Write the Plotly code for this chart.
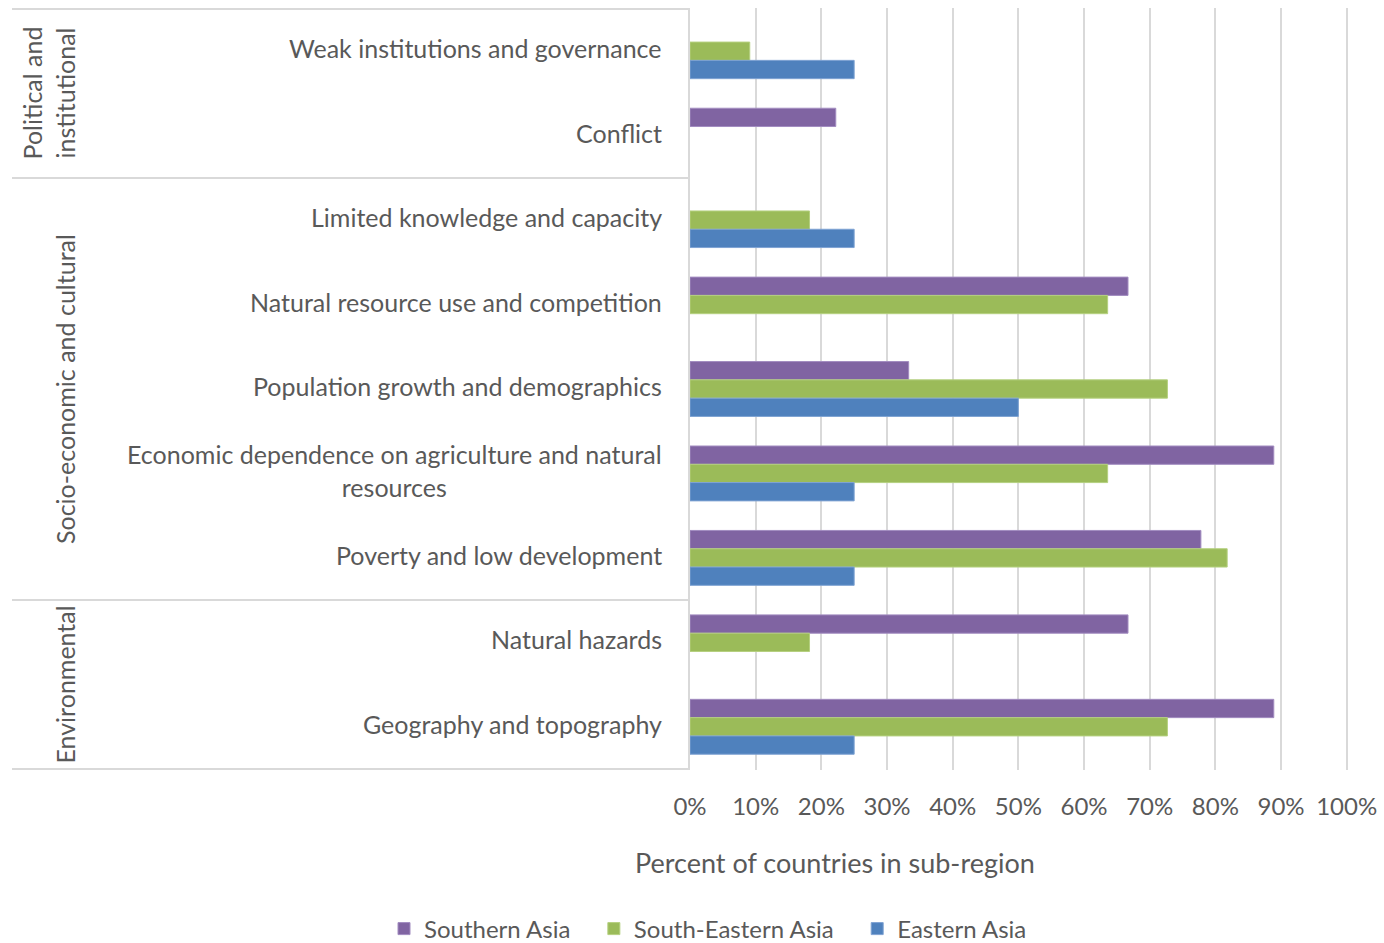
import plotly.graph_objects as go

# Barriers, listed top to bottom
categories = [
    "Weak institutions and governance",
    "Conflict",
    "Limited knowledge and capacity",
    "Natural resource use and competition",
    "Population growth and demographics",
    "Economic dependence on agriculture and natural resources",
    "Poverty and low development",
    "Natural hazards",
    "Geography and topography",
]
category_labels = [
    "Weak institutions and governance",
    "Conflict",
    "Limited knowledge and capacity",
    "Natural resource use and competition",
    "Population growth and demographics",
    "Economic dependence on agriculture and natural<br>resources",
    "Poverty and low development",
    "Natural hazards",
    "Geography and topography",
]

# Share of countries in each sub-region reporting the barrier
southern_asia = [None, 0.222, None, 0.667, 0.333, 0.889, 0.778, 0.667, 0.889]
south_eastern_asia = [0.091, None, 0.182, 0.636, 0.727, 0.636, 0.818, 0.182, 0.727]
eastern_asia = [0.25, None, 0.25, None, 0.50, 0.25, 0.25, None, 0.25]

series_names = ["Southern Asia", "South-Eastern Asia", "Eastern Asia"]
series_colors = ["#8064A2", "#9BBB59", "#4F81BD"]
series_edges = ["#A28CC0", "#B5D07F", "#7FA3D3"]

# Category groups: (label lines, first index, last index)
groups = [
    (["Political and", "institutional"], 0, 1),
    (["Socio-economic and cultural"], 2, 6),
    (["Environmental"], 7, 8),
]

x_ticks = [i / 10 for i in range(11)]
x_tick_text = [f"{i * 10}%" for i in range(11)]
x_title = "Percent of countries in sub-region"

FONT = "Lato"
TEXT = "#595959"
LINE = "#D9D9D9"

W, H = 1384, 943
ML, MR, MT, MB = 690, 36, 8, 173
plot_w = W - ML - MR
plot_h = H - MT - MB

LEGEND_PAD = "\u00a0" * 3  # extra room between legend entries

fig = go.Figure()
for i, (name, vals, col, edge) in enumerate(zip(
        series_names, [southern_asia, south_eastern_asia, eastern_asia],
        series_colors, series_edges)):
    fig.add_trace(go.Bar(
        y=categories, x=vals, orientation="h",
        name=name + (LEGEND_PAD if i < len(series_names) - 1 else ""),
        marker=dict(color=col, line=dict(color=edge, width=1)),
    ))

# Category labels on the left side of the plot
for cat, lab in zip(categories, category_labels):
    fig.add_annotation(
        x=0, y=cat, xref="paper", yref="y", xanchor="right", yanchor="middle",
        xshift=-26, yshift=3, text=lab, showarrow=False, align="center",
        font=dict(family=FONT, size=25, color=TEXT),
    )

# Group separators and rotated group titles
left_x = (12 - ML) / plot_w
bounds = sorted({-0.5, 8.5} | {g[1] - 0.5 for g in groups} | {g[2] + 0.5 for g in groups})
for b in bounds:
    fig.add_shape(type="line", xref="paper", yref="y", x0=left_x, x1=0, y0=b, y1=b,
                  line=dict(color=LINE, width=2))

for lines, i0, i1 in groups:
    mid = (i0 + i1) / 2
    xs = [65] if len(lines) == 1 else [32, 65]
    for ln, px in zip(lines, xs):
        fig.add_annotation(
            x=(px - ML) / plot_w, y=mid, xref="paper", yref="y",
            xanchor="center", yanchor="middle", text=ln, textangle=-90,
            showarrow=False, font=dict(family=FONT, size=25, color=TEXT),
        )

# Horizontal axis title
fig.add_annotation(
    x=(835 - ML) / plot_w, y=-(862 - MT - plot_h) / plot_h, xref="paper", yref="paper",
    xanchor="center", yanchor="middle", text=x_title, showarrow=False,
    font=dict(family=FONT, size=27, color=TEXT),
)

fig.update_layout(
    width=W, height=H,
    margin=dict(l=ML, r=MR, t=MT, b=MB, autoexpand=False),
    paper_bgcolor="white", plot_bgcolor="white",
    barmode="group", bargap=0.35, bargroupgap=0,
    font=dict(family=FONT, color=TEXT, size=24),
    xaxis=dict(
        range=[0, 1.002], tickvals=x_ticks, ticktext=x_tick_text,
        showgrid=True, gridcolor=LINE, gridwidth=2, zeroline=False,
        showline=False, ticks="", ticklabelstandoff=20, automargin=False,
        tickfont=dict(family=FONT, size=24, color=TEXT),
    ),
    yaxis=dict(
        categoryorder="array", categoryarray=categories, autorange="reversed",
        showticklabels=False, ticks="", showgrid=False, zeroline=False,
        showline=True, linecolor=LINE, linewidth=2, automargin=False,
    ),
    legend=dict(
        orientation="h", xref="container", yref="container",
        x=708 / W, xanchor="center", y=1 - 929 / H, yanchor="middle",
        font=dict(family=FONT, size=24, color=TEXT), traceorder="normal",
    ),
    showlegend=True,
)

fig.write_html("out.html")
